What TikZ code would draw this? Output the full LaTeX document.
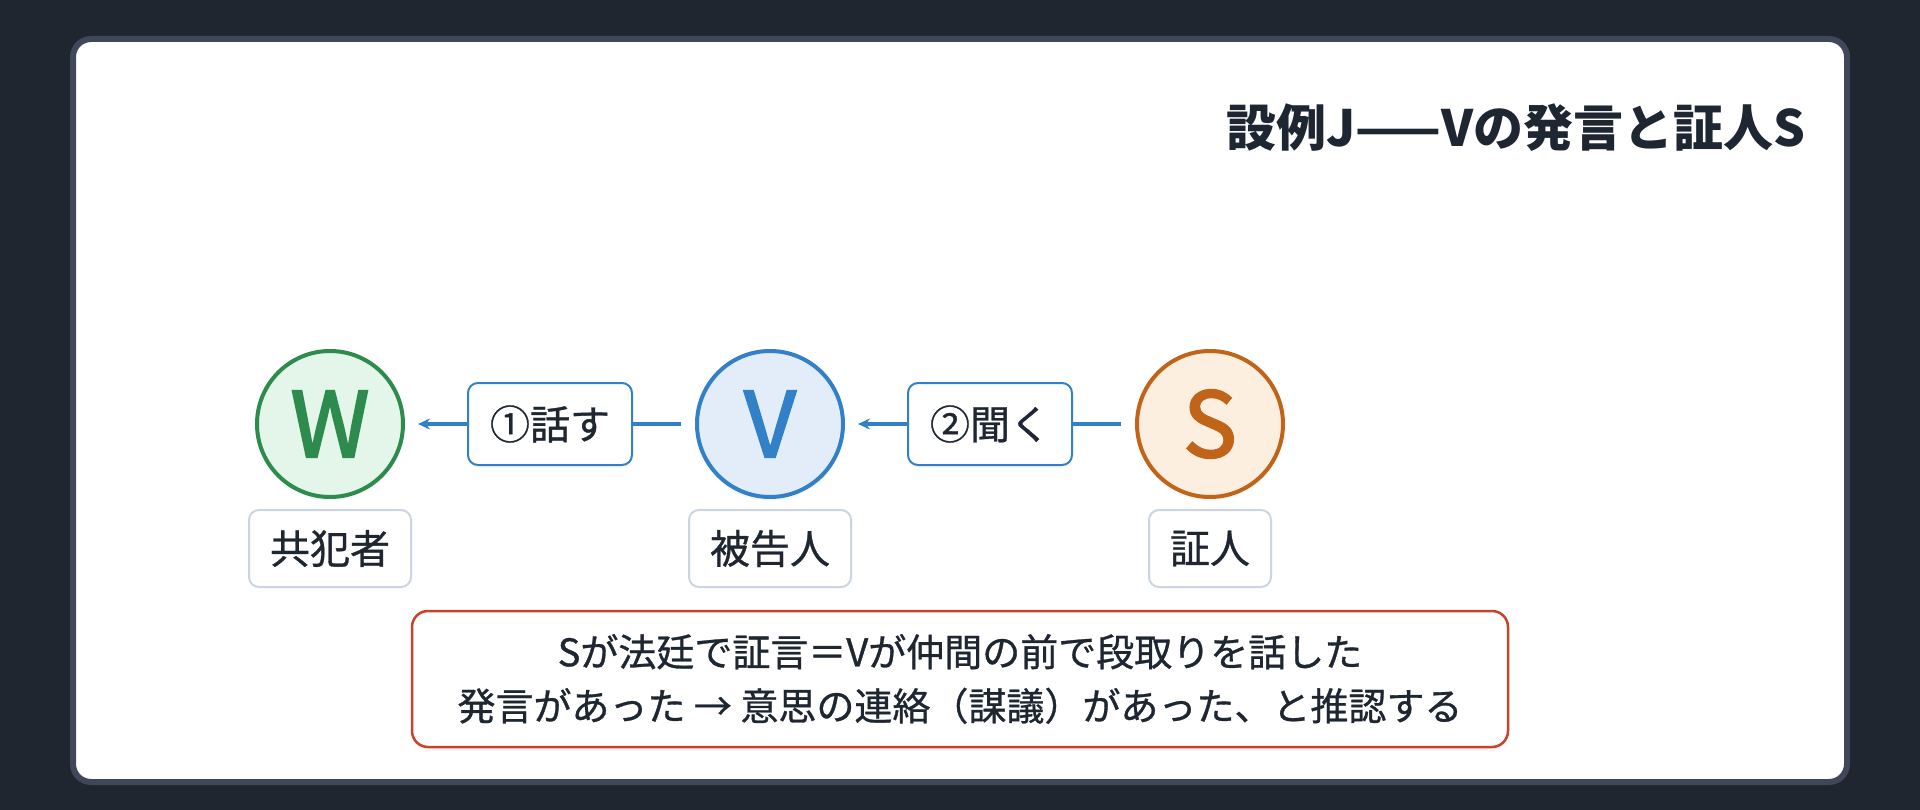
\documentclass[tikz,border=0pt]{standalone}
\usepackage{fontspec}
\setmainfont{Noto Sans CJK JP}
\newfontfamily\medfont[FakeBold=0.8]{Noto Sans CJK JP}
\newfontfamily\letterfont[FakeBold=2.4]{Noto Sans CJK JP}
\usetikzlibrary{arrows.meta,shadows}
\definecolor{bgdark}{HTML}{1F2630}
\definecolor{cardline}{HTML}{3E4858}
\definecolor{ink}{HTML}{1E2631}
\definecolor{wline}{HTML}{2E8B4E}
\definecolor{wfill}{HTML}{E4F5E9}
\definecolor{vline}{HTML}{3180C8}
\definecolor{vfill}{HTML}{E3EDF9}
\definecolor{sline}{HTML}{BF6419}
\definecolor{sfill}{HTML}{FDEFE0}
\definecolor{tagline}{HTML}{CBD5E1}
\definecolor{noteline}{HTML}{C9432C}
\begin{document}
\begin{tikzpicture}[x=1pt,y=-1pt,
		person/.style={circle,line width=4pt,minimum size=146pt,inner sep=0pt,
			font=\letterfont\fontsize{90}{96}\selectfont,
			drop shadow={opacity=0.06,shadow xshift=0pt,shadow yshift=-4pt}},
		tag/.style={draw=tagline,line width=2pt,fill=white,rounded corners=10pt,
			minimum height=77pt,inner xsep=21pt,text=ink,font=\medfont\fontsize{40}{48}\selectfont},
		act/.style={draw=vline,line width=2pt,fill=white,rounded corners=10pt,
			minimum height=82pt,inner xsep=22pt,text=ink,font=\medfont\fontsize{40}{48}\selectfont,
			drop shadow={opacity=0.06,shadow xshift=0pt,shadow yshift=-3pt}},
		edge/.style={draw=vline,line width=3.5pt,shorten <=14pt,shorten >=13pt,
			-{Stealth[length=12pt,width=11pt]}}]
	\useasboundingbox (0,0) rectangle (1920,810);
	\fill[bgdark] (0,0) rectangle (1920,810);
	\draw[cardline,fill=white,line width=6pt,rounded corners=18pt] (73,39) rectangle (1847,782);
	% title
	\node[anchor=east,text=ink,font=\fontsize{50}{60}\selectfont\bfseries] (title) at (1809,128) {設例J——Vの発言と証人S};
	% persons
	\node[person,draw=wline,fill=wfill,text=wline] (W) at (330,424) {W};
	\node[person,draw=vline,fill=vfill,text=vline] (V) at (770,424) {V};
	\node[person,draw=sline,fill=sfill,text=sline] (S) at (1210,424) {S};
	\node[tag] (lW) at (330,548.5) {共犯者};
	\node[tag] (lV) at (770,548.5) {被告人};
	\node[tag] (lS) at (1210,548.5) {証人};
	% statements
	\draw[edge] (V) -- node[act] (say) {①話す} (W);
	\draw[edge] (S) -- node[act] (hear) {②聞く} (V);
	% inference
	\node[draw=noteline,line width=2.5pt,fill=white,rounded corners=16pt,
		minimum width=1096pt,minimum height=136pt,align=center,text=ink,
		font=\medfont\fontsize{38}{54}\selectfont,
		drop shadow={opacity=0.06,shadow xshift=0pt,shadow yshift=-4pt}] (note) at (960,679)
		{Sが法廷で証言＝Vが仲間の前で段取りを話した\\発言があった → 意思の連絡（謀議）があった、と推認する};
\end{tikzpicture}
\end{document}
